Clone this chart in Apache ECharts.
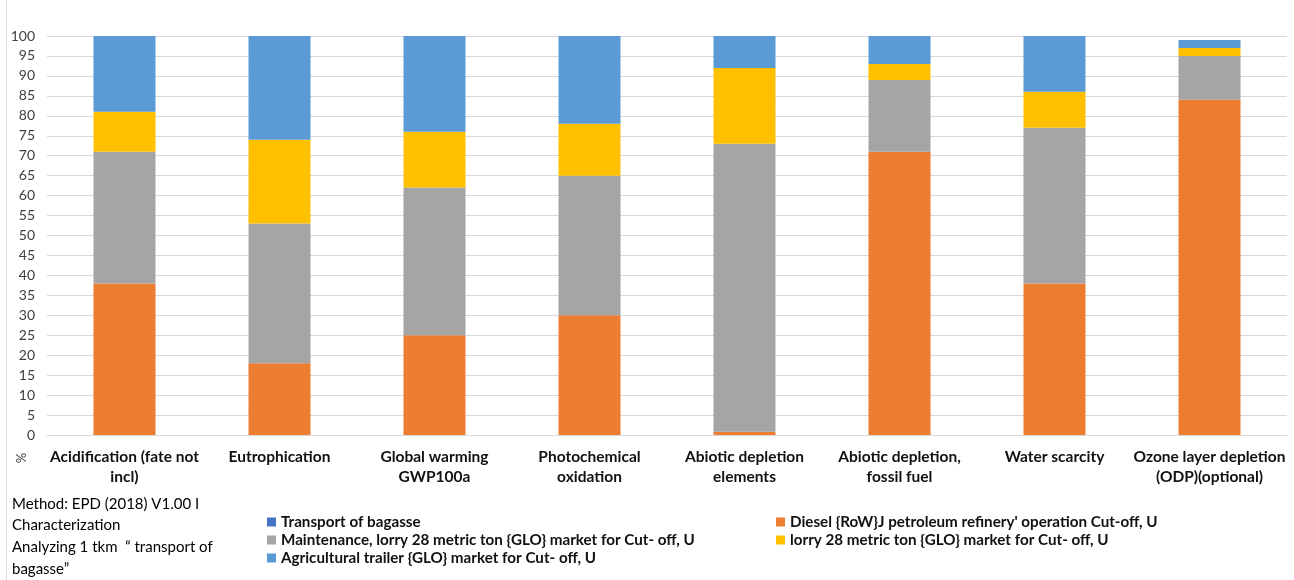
<!DOCTYPE html>
<html>
<head>
<meta charset="utf-8">
<script src="https://cdn.jsdelivr.net/npm/echarts@6/dist/echarts.min.js"></script>
<style>
  html, body { margin: 0; padding: 0; background: #fff; }
  #chart { width: 1294px; height: 580px; }
</style>
</head>
<body>
<div id="chart"></div>
<script>
// Impact categories (x axis)
const categories = [
  'Acidification (fate not\nincl)',
  'Eutrophication',
  'Global warming\nGWP100a',
  'Photochemical\noxidation',
  'Abiotic depletion\nelements',
  'Abiotic depletion,\nfossil fuel',
  'Water scarcity',
  'Ozone layer depletion\n(ODP)(optional)'
];

// Contribution of each process, % of the total per category
const transportBagasse = [0, 0, 0, 0, 0, 0, 0, 0];
const diesel           = [38, 18, 25, 30, 0.8, 71, 38, 84];
const maintenance      = [33, 35, 37, 35, 72.2, 18, 39, 11];
const lorry            = [10, 21, 14, 13, 19, 4, 9, 2];
const trailer          = [19, 26, 24, 22, 8, 7, 14, 2];

const yTicks = { min: 0, max: 100, interval: 5 };

const seriesNames = {
  transport: 'Transport of bagasse',
  diesel: "Diesel {RoW}J petroleum refinery' operation Cut-off, U",
  maintenance: 'Maintenance, lorry 28 metric ton {GLO} market for Cut- off, U',
  lorry: 'lorry 28 metric ton {GLO} market for Cut- off, U',
  trailer: 'Agricultural trailer {GLO} market for Cut- off, U'
};

const colors = {
  transport: '#4472C4',
  diesel: '#ED7D31',
  maintenance: '#A5A5A5',
  lorry: '#FFC000',
  trailer: '#5B9BD5'
};

const FONT = 'Lato, "Open Sans", sans-serif';

function barSeries(key, data) {
  return {
    name: seriesNames[key],
    type: 'bar',
    stack: 'total',
    barWidth: '40%',
    data: data,
    itemStyle: { color: colors[key] }
  };
}

const legendText = { fontFamily: FONT, fontSize: 15.2, fontWeight: 'bold', color: '#111', lineHeight: 16 };

const chart = echarts.init(document.getElementById('chart'), null, { renderer: 'canvas' });
chart.setOption({
  animation: false,
  backgroundColor: '#fff',
  grid: { left: 47, right: 7, top: 36, bottom: 145, containLabel: false },
  legend: [
    {
      orient: 'vertical', left: 262, top: 509,
      itemWidth: 9, itemHeight: 9, itemGap: 2,
      icon: 'rect',
      textStyle: legendText,
      data: [seriesNames.transport, seriesNames.maintenance, seriesNames.trailer]
    },
    {
      orient: 'vertical', left: 771, top: 509,
      itemWidth: 9, itemHeight: 9, itemGap: 2,
      icon: 'rect',
      textStyle: legendText,
      data: [seriesNames.diesel, seriesNames.lorry]
    }
  ],
  xAxis: {
    type: 'category',
    data: categories,
    axisTick: { show: false },
    axisLine: { show: true, lineStyle: { color: '#d9d9d9' } },
    axisLabel: {
      interval: 0, margin: 12,
      fontFamily: FONT, fontSize: 15.5, fontWeight: 'bold', color: '#111', lineHeight: 20
    }
  },
  yAxis: {
    type: 'value',
    min: yTicks.min, max: yTicks.max, interval: yTicks.interval,
    axisLine: { show: false },
    axisTick: { show: false },
    axisLabel: { margin: 12, fontFamily: FONT, fontSize: 14, color: '#404040' },
    splitLine: { lineStyle: { color: '#d9d9d9', width: 1 } }
  },
  series: [
    barSeries('transport', transportBagasse),
    barSeries('diesel', diesel),
    barSeries('maintenance', maintenance),
    barSeries('lorry', lorry),
    barSeries('trailer', trailer)
  ],
  graphic: [
    { type: 'line', shape: { x1: 6.5, y1: 0, x2: 6.5, y2: 580 }, style: { stroke: '#d9d9d9', lineWidth: 1 } },
    {
      type: 'text', x: 22, y: 458, rotation: Math.PI / 2,
      style: { text: '%', fontFamily: FONT, fontSize: 13, fill: '#404040', align: 'center', verticalAlign: 'middle' }
    },
    {
      type: 'text', left: 12, top: 493,
      style: {
        text: 'Method: EPD (2018) V1.00 I\nCharacterization\nAnalyzing 1 tkm  \u201c transport of\nbagasse\u201d',
        fontFamily: FONT, fontSize: 15, lineHeight: 21.7, fill: '#000'
      }
    }
  ]
});
</script>
</body>
</html>
